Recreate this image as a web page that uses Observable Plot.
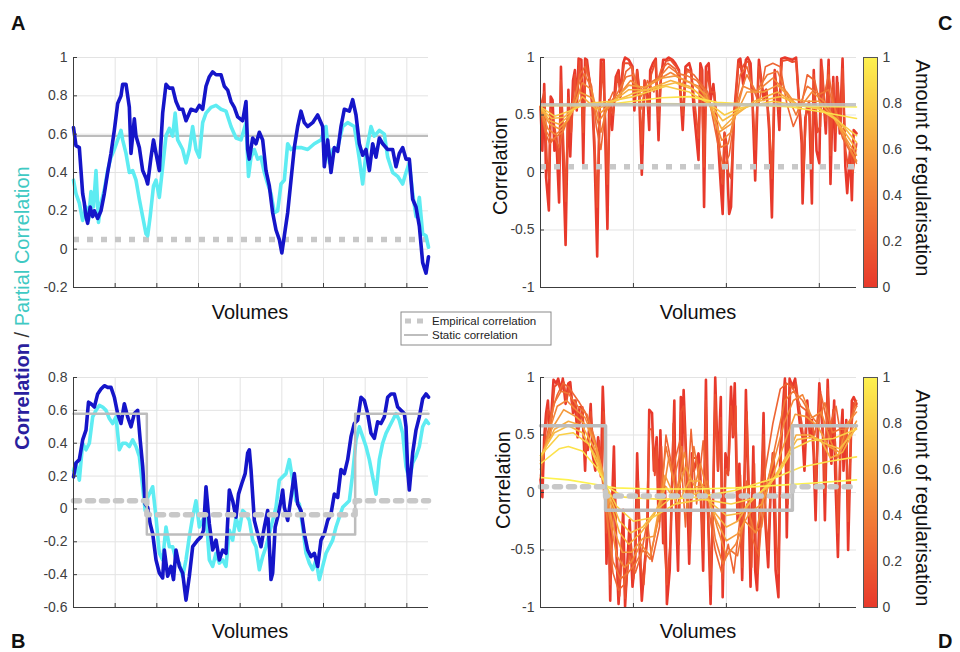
<!DOCTYPE html>
<html><head><meta charset="utf-8">
<script src="https://cdn.jsdelivr.net/npm/d3@7"></script>
<script src="https://cdn.jsdelivr.net/npm/@observablehq/plot@0.6"></script>
<style>
html,body{margin:0;padding:0;background:#fff;}
#fig{position:relative;width:960px;height:652px;overflow:hidden;background:#fff;font-family:"Liberation Sans",Arial,Helvetica,sans-serif;}
#fig .panel{position:absolute;}
#fig svg{overflow:visible;}
#overlay{position:absolute;left:0;top:0;pointer-events:none;}
</style></head><body><div id="fig"></div>
<script>
// ---------------- DATA ----------------
// Panel A (volumes, correlation)
const corrA = [[0,0.635],[3,0.54],[7,0.53],[9,0.41],[11,0.29],[13,0.24],[15,0.17],[17,0.135],[20,0.22],[23,0.17],[25,0.2],[29,0.16],[33,0.2],[37,0.29],[41,0.4],[45,0.5],[49,0.62],[53,0.76],[57,0.8],[59,0.86],[63,0.86],[67,0.74],[69,0.5],[73,0.68],[75,0.59],[79,0.53],[83,0.41],[87,0.37],[89,0.34],[93,0.48],[96,0.57],[99,0.5],[103,0.41],[107,0.71],[111,0.86],[115,0.84],[119,0.84],[123,0.77],[127,0.73],[131,0.73],[135,0.67],[141,0.73],[147,0.72],[151,0.75],[155,0.73],[159,0.85],[163,0.9],[167,0.925],[171,0.91],[177,0.91],[181,0.85],[185,0.83],[189,0.77],[193,0.74],[197,0.69],[203,0.67],[207,0.77],[209,0.52],[211,0.47],[215,0.58],[219,0.55],[223,0.61],[227,0.57],[231,0.41],[235,0.33],[239,0.19],[243,0.1],[247,0.05],[250,-0.02],[253,0.07],[257,0.19],[261,0.36],[265,0.53],[269,0.64],[273,0.72],[277,0.66],[281,0.64],[287,0.66],[293,0.7],[299,0.64],[301,0.43],[305,0.57],[309,0.4],[313,0.53],[317,0.51],[321,0.64],[325,0.73],[331,0.72],[335,0.78],[339,0.7],[343,0.55],[347,0.49],[351,0.52],[355,0.41],[359,0.55],[363,0.48],[367,0.58],[371,0.55],[377,0.52],[383,0.52],[387,0.43],[391,0.5],[395,0.53],[399,0.47],[403,0.47],[407,0.26],[411,0.22],[415,0.12],[419,-0.07],[423,-0.125],[426,-0.04]];
const partialA = [[0,0.36],[3,0.29],[7,0.24],[11,0.15],[15,0.22],[18,0.15],[21,0.30],[24,0.22],[27,0.41],[30,0.14],[33,0.24],[37,0.31],[41,0.41],[45,0.48],[49,0.52],[53,0.57],[57,0.62],[59,0.57],[63,0.50],[67,0.40],[71,0.41],[75,0.36],[79,0.26],[83,0.17],[87,0.08],[89,0.07],[92,0.17],[96,0.33],[99,0.36],[103,0.27],[107,0.43],[111,0.59],[115,0.63],[119,0.59],[122,0.71],[125,0.57],[131,0.52],[135,0.45],[139,0.52],[143,0.64],[147,0.52],[151,0.48],[155,0.66],[159,0.71],[165,0.74],[171,0.75],[177,0.73],[183,0.72],[189,0.64],[195,0.58],[201,0.57],[207,0.66],[210,0.38],[213,0.48],[217,0.52],[221,0.47],[225,0.48],[229,0.40],[233,0.34],[237,0.29],[241,0.19],[245,0.20],[249,0.34],[253,0.36],[257,0.55],[261,0.52],[265,0.53],[273,0.53],[281,0.52],[289,0.55],[297,0.57],[303,0.64],[307,0.45],[311,0.52],[317,0.53],[323,0.64],[329,0.66],[337,0.64],[343,0.47],[347,0.34],[351,0.50],[357,0.64],[361,0.59],[367,0.62],[373,0.60],[377,0.48],[383,0.40],[389,0.38],[395,0.34],[399,0.40],[403,0.45],[407,0.29],[411,0.17],[415,0.27],[419,0.08],[423,0.07],[426,0.01]];
const staticA = [0.59];
const empiricalA = [0.05];

// Panel B
const corrB = [[0,0.195],[3,0.28],[7,0.30],[11,0.42],[15,0.48],[18,0.65],[21,0.64],[25,0.62],[29,0.70],[33,0.73],[37,0.75],[41,0.74],[45,0.74],[49,0.68],[53,0.58],[57,0.52],[61,0.64],[65,0.56],[69,0.50],[73,0.58],[77,0.60],[80,0.42],[83,0.26],[86,0.03],[89,0.01],[92,-0.09],[95,-0.15],[99,-0.31],[103,-0.39],[107,-0.42],[109,-0.25],[113,-0.41],[117,-0.35],[120,-0.43],[123,-0.25],[127,-0.35],[131,-0.39],[135,-0.555],[139,-0.41],[143,-0.23],[149,-0.19],[153,-0.17],[156,-0.13],[159,0.135],[163,-0.09],[167,-0.25],[171,-0.19],[175,-0.31],[179,-0.25],[183,-0.27],[187,0.115],[191,0.05],[195,-0.05],[198,0.09],[202,0.155],[206,0.215],[209,0.34],[211,0.36],[213,0.24],[217,-0.07],[221,-0.15],[225,-0.23],[229,-0.11],[233,-0.01],[237,-0.43],[239,-0.39],[242,-0.11],[245,-0.05],[249,0.05],[251,0.115],[253,0.01],[257,-0.07],[261,0.07],[265,0.215],[269,0.03],[273,-0.01],[277,-0.15],[281,-0.25],[285,-0.29],[289,-0.27],[293,-0.35],[297,-0.19],[301,-0.15],[305,-0.07],[309,-0.03],[313,0.09],[317,0.07],[321,0.24],[325,0.215],[329,0.30],[333,0.44],[337,0.52],[341,0.54],[345,0.68],[349,0.66],[353,0.58],[357,0.46],[361,0.43],[365,0.53],[369,0.52],[373,0.56],[377,0.68],[381,0.70],[385,0.70],[389,0.62],[393,0.60],[397,0.58],[399,0.50],[401,0.24],[403,0.115],[407,0.34],[411,0.48],[415,0.56],[419,0.67],[423,0.70],[426,0.68]];
const partialB = [[0,0.235],[3,0.28],[7,0.175],[11,0.40],[15,0.36],[19,0.40],[23,0.56],[27,0.60],[31,0.63],[35,0.62],[39,0.60],[43,0.55],[47,0.52],[51,0.56],[55,0.36],[59,0.40],[63,0.40],[67,0.38],[71,0.42],[75,0.38],[79,0.32],[83,0.135],[86,-0.01],[89,0.07],[95,0.135],[99,-0.05],[103,-0.27],[107,-0.31],[111,-0.11],[115,-0.23],[119,-0.23],[123,-0.31],[127,-0.33],[131,-0.41],[135,-0.31],[139,-0.17],[143,-0.05],[147,0.05],[151,-0.11],[155,-0.07],[159,-0.03],[163,-0.31],[167,-0.35],[171,-0.27],[175,-0.33],[179,-0.31],[183,-0.35],[187,-0.13],[191,-0.19],[195,-0.05],[199,-0.13],[203,-0.01],[207,-0.03],[211,-0.07],[215,-0.19],[219,-0.23],[223,-0.37],[227,-0.29],[231,-0.23],[235,-0.15],[239,-0.07],[243,0.01],[247,0.175],[251,0.195],[255,0.215],[259,0.30],[263,0.175],[267,0.05],[271,0.03],[275,-0.11],[279,-0.27],[283,-0.33],[287,-0.37],[291,-0.31],[295,-0.43],[299,-0.35],[303,-0.27],[307,-0.23],[311,-0.19],[315,-0.11],[319,-0.05],[323,0.01],[327,0.03],[331,0.05],[335,0.215],[339,0.42],[343,0.50],[347,0.44],[351,0.38],[355,0.30],[359,0.195],[363,0.09],[367,0.30],[371,0.40],[375,0.46],[379,0.50],[383,0.54],[387,0.58],[391,0.54],[395,0.46],[399,0.26],[403,0.175],[407,0.28],[411,0.32],[415,0.38],[419,0.50],[423,0.54],[426,0.52]];
const staticB = [[0,0.58],[88,-0.155],[338,0.58],[426,0.58]];
const empiricalB = [[0,0.05],[88,-0.035],[338,0.05],[426,0.05]];

// Panel C: regularised correlation, one series per amount of regularisation
const regC0 = [[0,0.57],[2,0.19],[4,0.77],[6,-0.04],[9,-0.33],[11,0.66],[13,0.63],[15,0.19],[17,0.31],[20,-0.26],[22,0.92],[24,0.19],[27,-0.63],[30,0.72],[32,0.14],[35,0.80],[37,0.89],[39,0.54],[41,0.99],[44,0.98],[46,0.08],[48,0.99],[50,0.98],[53,0.77],[56,0.57],[58,0.19],[61,-0.73],[63,0.34],[65,0.98],[68,0.98],[70,0.19],[72,-0.49],[74,0.63],[77,0.37],[81,0.83],[84,0.89],[86,0.66],[89,0.95],[91,1.0],[95,0.98],[99,0.92],[101,0.54],[104,0.89],[106,0.72],[109,-0.02],[112,0.80],[115,0.66],[117,0.37],[118,0.89],[121,0.95],[124,0.99],[127,0.28],[129,0.77],[132,0.98],[135,0.98],[138,1.0],[142,0.98],[145,0.95],[149,0.89],[153,0.37],[156,0.92],[160,0.95],[162,0.89],[165,0.54],[170,0.11],[172,0.95],[174,0.89],[176,-0.30],[178,0.92],[181,0.95],[183,0.63],[186,0.77],[189,0.48],[191,0.28],[194,-0.12],[196,-0.36],[198,0.34],[200,0.25],[202,-0.18],[203,-0.36],[205,-0.30],[208,0.48],[211,0.77],[213,0.98],[215,0.99],[218,0.77],[221,0.98],[223,1.0],[226,0.95],[228,0.63],[231,-0.07],[234,0.77],[235,0.98],[238,0.77],[240,0.63],[243,0.72],[246,0.37],[249,-0.39],[252,0.89],[255,0.63],[257,0.37],[259,0.99],[263,1.0],[267,0.99],[271,0.98],[275,1.0],[278,0.63],[281,0.25],[282,-0.27],[285,0.48],[289,0.60],[292,-0.27],[294,0.89],[297,0.19],[300,0.08],[302,0.98],[304,0.72],[307,0.34],[310,0.98],[312,-0.10],[315,0.83],[317,0.19],[319,0.83],[322,0.34],[325,0.99],[328,0.05],[330,-0.18],[333,0.19],[335,-0.24],[337,0.37],[340,0.34]];
const regC12 = [[0,0.57],[4,0.70],[7,0.10],[9,-0.05],[11,0.55],[14,0.45],[17,0.30],[20,0.05],[22,0.80],[25,0.20],[27,-0.25],[30,0.65],[33,0.35],[37,0.85],[39,0.60],[42,0.97],[46,0.35],[49,0.97],[53,0.80],[56,0.60],[58,0.30],[61,-0.30],[64,0.55],[67,0.95],[70,0.40],[72,-0.10],[75,0.60],[78,0.50],[83,0.85],[86,0.70],[90,0.95],[95,0.95],[99,0.90],[101,0.65],[104,0.88],[106,0.75],[109,0.25],[112,0.80],[116,0.55],[119,0.85],[124,0.97],[127,0.45],[130,0.85],[135,0.97],[140,0.98],[145,0.93],[149,0.88],[153,0.50],[157,0.90],[162,0.88],[166,0.60],[170,0.30],[173,0.90],[176,0.05],[179,0.88],[183,0.70],[187,0.70],[191,0.35],[194,0.05],[196,-0.10],[198,0.35],[202,0.0],[205,-0.05],[209,0.55],[213,0.95],[216,0.90],[220,0.95],[224,0.97],[228,0.65],[231,0.20],[235,0.92],[239,0.72],[243,0.70],[246,0.45],[249,-0.05],[252,0.85],[256,0.55],[260,0.97],[266,0.98],[271,0.96],[275,0.97],[278,0.65],[281,0.35],[283,0.0],[286,0.55],[289,0.62],[292,0.05],[294,0.85],[298,0.35],[301,0.40],[303,0.92],[307,0.45],[310,0.92],[312,0.15],[315,0.78],[318,0.35],[320,0.78],[323,0.40],[325,0.90],[328,0.20],[331,0.05],[334,0.20],[336,0.0],[340,0.25]];
const regC25 = [[0,0.55],[5,0.35],[10,0.25],[15,0.30],[20,0.22],[25,0.40],[35,0.55],[42,0.85],[48,0.92],[55,0.75],[60,0.40],[65,0.20],[70,0.55],[78,0.70],[85,0.65],[92,0.88],[98,0.92],[103,0.78],[108,0.55],[115,0.80],[122,0.70],[130,0.90],[137,0.95],[145,0.90],[152,0.75],[158,0.88],[165,0.85],[172,0.78],[180,0.70],[186,0.45],[192,0.20],[197,0.05],[203,0.15],[210,0.55],[215,0.85],[222,0.92],[228,0.75],[235,0.60],[242,0.92],[250,0.95],[258,0.92],[265,0.60],[272,0.40],[280,0.55],[287,0.85],[295,0.80],[302,0.55],[310,0.85],[318,0.50],[325,0.30],[332,0.20],[340,0.10]];
const regC35 = [[0,0.55],[6,0.36],[12,0.28],[18,0.32],[24,0.35],[32,0.52],[40,0.75],[47,0.86],[54,0.75],[60,0.48],[65,0.35],[72,0.58],[82,0.68],[92,0.83],[100,0.85],[108,0.66],[118,0.78],[128,0.83],[138,0.92],[148,0.86],[158,0.84],[168,0.80],[178,0.70],[186,0.52],[194,0.22],[202,0.25],[212,0.62],[222,0.85],[232,0.70],[244,0.85],[255,0.88],[265,0.68],[275,0.50],[287,0.75],[300,0.68],[310,0.72],[320,0.48],[330,0.25],[340,0.08]];
const regC45 = [[0,0.55],[8,0.38],[16,0.33],[24,0.38],[35,0.55],[45,0.78],[55,0.72],[63,0.45],[72,0.55],[85,0.68],[97,0.80],[110,0.72],[125,0.80],[140,0.87],[155,0.80],[170,0.75],[182,0.60],[195,0.28],[205,0.35],[218,0.75],[232,0.70],[250,0.82],[265,0.70],[278,0.55],[292,0.70],[305,0.62],[318,0.45],[330,0.25],[340,0.10]];
const regC55 = [[0,0.55],[10,0.42],[20,0.38],[30,0.46],[42,0.70],[55,0.65],[65,0.52],[78,0.62],[95,0.76],[112,0.74],[130,0.82],[145,0.84],[162,0.78],[178,0.68],[192,0.35],[205,0.42],[222,0.70],[240,0.70],[255,0.76],[270,0.64],[285,0.62],[300,0.62],[315,0.48],[330,0.28],[340,0.15]];
const regC65 = [[0,0.56],[10,0.45],[20,0.42],[32,0.50],[45,0.66],[60,0.55],[75,0.60],[95,0.72],[115,0.72],[140,0.80],[160,0.75],[180,0.62],[195,0.38],[210,0.50],[230,0.62],[255,0.70],[275,0.60],[295,0.58],[315,0.48],[330,0.32],[340,0.20]];
const regC72 = [[0,0.56],[12,0.47],[25,0.48],[40,0.58],[60,0.58],[80,0.62],[100,0.69],[125,0.74],[145,0.78],[165,0.72],[182,0.60],[196,0.45],[212,0.53],[235,0.62],[258,0.66],[280,0.58],[300,0.56],[318,0.47],[330,0.36],[340,0.26]];
const regC80 = [[0,0.57],[15,0.49],[30,0.53],[50,0.60],[75,0.62],[100,0.66],[135,0.75],[160,0.70],[185,0.58],[198,0.50],[215,0.56],[250,0.62],[280,0.58],[300,0.55],[320,0.45],[340,0.32]];
const regC92 = [[0,0.58],[40,0.58],[80,0.60],[130,0.65],[160,0.66],[190,0.61],[230,0.59],[270,0.57],[300,0.53],[340,0.47]];
const regC100 = [[0,0.585],[60,0.595],[120,0.60],[180,0.595],[240,0.585],[300,0.575],[340,0.57]];
const lambdasC = [0, 0.12, 0.25, 0.35, 0.45, 0.55, 0.65, 0.72, 0.8, 0.92, 1];
const seriesC = [regC0, regC12, regC25, regC35, regC45, regC55, regC65, regC72, regC80, regC92, regC100];
const staticC = [0.59];
const empiricalC = [0.05];

// Panel D
const regD0 = [[0,0.11],[2,-0.04],[4,0.48],[6,0.69],[8,0.80],[10,0.48],[12,0.72],[14,0.98],[17,0.95],[19,0.99],[22,0.89],[24,0.99],[27,0.77],[30,0.95],[32,0.96],[35,0.69],[37,0.80],[40,0.48],[42,0.74],[45,0.74],[48,0.19],[49,0.43],[51,0.37],[54,0.77],[56,0.34],[59,0.19],[62,0.48],[65,0.14],[67,0.92],[69,0.48],[71,-0.62],[73,-0.04],[75,-0.94],[77,-0.10],[79,0.40],[81,-0.39],[84,-0.97],[86,-0.68],[89,-0.15],[91,-0.99],[93,-0.68],[96,-0.24],[99,-0.82],[102,-0.56],[104,0.34],[107,-0.56],[109,-0.94],[112,-0.62],[115,-0.39],[117,0.72],[120,0.69],[122,0.19],[125,0.48],[127,-0.24],[129,0.54],[132,-0.44],[134,0.05],[136,-0.97],[139,-0.68],[142,0.19],[144,0.80],[145,0.05],[148,-0.68],[151,0.83],[152,0.19],[154,0.89],[157,0.25],[160,-0.62],[163,0.34],[165,0.19],[170,0.34],[172,0.14],[175,-0.68],[178,0.98],[180,-0.10],[183,-0.97],[186,0.05],[188,1.0],[191,0.19],[194,0.83],[196,-0.91],[199,0.34],[202,0.19],[205,0.92],[207,0.48],[209,0.95],[212,-0.24],[214,0.25],[217,-0.76],[220,0.34],[221,0.89],[224,-0.10],[226,-0.82],[229,0.40],[231,-0.68],[233,-0.85],[236,-0.10],[238,0.05],[240,0.69],[242,-0.27],[245,-0.65],[248,0.11],[250,0.34],[253,-0.68],[256,-0.91],[258,0.34],[261,0.77],[263,0.99],[265,-0.39],[268,0.99],[271,0.92],[274,0.99],[276,0.83],[279,0.60],[282,0.48],[284,0.19],[287,0.80],[290,0.48],[292,0.63],[294,0.31],[296,-0.24],[298,0.48],[300,0.95],[301,0.83],[304,0.48],[306,-0.24],[309,0.98],[311,0.48],[313,0.25],[316,0.80],[317,0.19],[320,-0.56],[323,0.48],[325,0.72],[326,0.19],[329,0.63],[331,-0.50],[334,0.48],[335,0.80],[337,0.83],[340,0.77]];
const regD12 = [[0,0.12],[4,0.40],[8,0.72],[12,0.65],[15,0.92],[19,0.95],[22,0.88],[25,0.96],[28,0.80],[31,0.92],[35,0.72],[38,0.80],[41,0.55],[45,0.72],[48,0.35],[51,0.45],[54,0.70],[57,0.40],[60,0.30],[63,0.45],[66,0.20],[68,0.70],[71,-0.35],[73,-0.10],[75,-0.80],[78,-0.20],[80,0.10],[82,-0.50],[85,-0.90],[88,-0.40],[91,-0.92],[94,-0.65],[97,-0.40],[100,-0.75],[103,-0.30],[105,0.10],[108,-0.65],[111,-0.80],[114,-0.45],[117,0.55],[120,0.55],[123,0.15],[125,0.40],[128,-0.25],[130,0.40],[133,-0.40],[136,-0.80],[140,-0.40],[143,0.60],[146,-0.10],[149,-0.45],[151,0.70],[154,0.75],[158,0.05],[161,-0.45],[164,0.30],[168,0.30],[171,0.20],[175,-0.50],[178,0.80],[180,-0.15],[183,-0.80],[186,0.05],[188,0.85],[191,0.20],[194,0.65],[196,-0.75],[199,0.20],[202,0.15],[205,0.75],[208,0.50],[210,0.75],[212,-0.20],[215,0.15],[217,-0.65],[220,0.25],[222,0.70],[225,-0.15],[227,-0.65],[230,0.25],[232,-0.55],[234,-0.70],[237,-0.10],[240,0.50],[242,-0.20],[245,-0.50],[248,0.15],[251,0.35],[254,-0.45],[256,-0.70],[259,0.40],[262,0.80],[264,0.95],[266,-0.10],[269,0.95],[272,0.90],[275,0.95],[278,0.75],[281,0.60],[284,0.40],[287,0.75],[290,0.55],[293,0.60],[296,0.05],[299,0.55],[301,0.88],[304,0.55],[306,0.0],[309,0.90],[312,0.45],[315,0.72],[318,0.30],[320,-0.35],[323,0.45],[326,0.55],[329,0.60],[331,-0.25],[334,0.50],[337,0.78],[340,0.75]];
const regD25 = [[0,0.15],[6,0.45],[12,0.70],[18,0.85],[24,0.95],[30,0.92],[36,0.85],[42,0.78],[48,0.70],[54,0.55],[60,0.40],[66,0.20],[70,0.0],[74,-0.40],[78,-0.70],[84,-0.85],[90,-0.80],[96,-0.55],[102,-0.70],[108,-0.55],[115,-0.25],[120,-0.60],[128,-0.30],[135,0.50],[142,0.20],[150,0.45],[156,-0.30],[162,0.55],[168,-0.10],[175,0.45],[182,-0.20],[188,-0.50],[195,-0.70],[202,-0.45],[208,-0.70],[215,-0.20],[222,0.10],[228,-0.40],[235,-0.55],[242,0.20],[250,0.60],[258,0.90],[265,0.95],[272,0.90],[280,0.75],[288,0.70],[295,0.50],[302,0.85],[310,0.55],[318,0.75],[325,0.40],[332,0.60],[340,0.80]];
const regD35 = [[0,0.20],[8,0.50],[15,0.78],[22,0.88],[30,0.86],[40,0.75],[50,0.68],[58,0.48],[65,0.20],[72,-0.25],[78,-0.60],[86,-0.75],[94,-0.70],[102,-0.62],[110,-0.50],[118,-0.58],[126,-0.25],[135,0.40],[143,0.10],[152,0.40],[158,-0.15],[165,0.40],[172,0.05],[180,0.10],[188,-0.40],[196,-0.62],[204,-0.50],[212,-0.55],[222,-0.10],[230,-0.35],[238,-0.30],[246,0.15],[255,0.50],[263,0.80],[272,0.88],[282,0.80],[290,0.68],[298,0.60],[306,0.78],[314,0.52],[322,0.55],[330,0.55],[340,0.75]];
const regD45 = [[0,0.25],[8,0.50],[18,0.75],[28,0.80],[38,0.72],[48,0.65],[58,0.45],[66,0.20],[74,-0.20],[82,-0.55],[90,-0.65],[98,-0.60],[108,-0.45],[118,-0.55],[128,-0.20],[138,0.30],[146,0.0],[155,0.35],[163,-0.05],[172,0.25],[180,0.00],[190,-0.30],[200,-0.55],[210,-0.45],[220,-0.25],[232,-0.35],[242,0.05],[252,0.30],[262,0.60],[272,0.80],[282,0.85],[292,0.65],[302,0.70],[312,0.45],[320,0.30],[330,0.60],[340,0.70]];
const regD55 = [[0,0.28],[12,0.55],[25,0.72],[38,0.66],[50,0.58],[60,0.40],[68,0.15],[78,-0.30],[88,-0.52],[98,-0.52],[110,-0.40],[122,-0.38],[134,0.15],[145,-0.05],[156,0.22],[166,0.05],[176,0.05],[188,-0.22],[200,-0.42],[212,-0.36],[225,-0.18],[238,-0.10],[250,0.15],[262,0.42],[274,0.68],[286,0.66],[298,0.58],[310,0.40],[322,0.35],[332,0.50],[340,0.62]];
const regD65 = [[0,0.30],[15,0.55],[30,0.62],[45,0.58],[60,0.35],[72,0.0],[85,-0.35],[95,-0.45],[108,-0.35],[122,-0.20],[135,0.05],[148,-0.10],[160,0.10],[172,0.10],[185,-0.15],[200,-0.30],[212,-0.25],[228,-0.05],[245,0.05],[262,0.25],[275,0.50],[290,0.50],[302,0.45],[312,0.30],[325,0.35],[340,0.58]];
const regD72 = [[0,0.32],[15,0.52],[30,0.58],[45,0.52],[60,0.30],[72,0.02],[85,-0.25],[97,-0.35],[110,-0.30],[125,-0.15],[140,-0.05],[155,-0.05],[170,0.0],[185,-0.10],[200,-0.20],[215,-0.18],[230,-0.05],[248,0.08],[262,0.28],[276,0.46],[292,0.48],[308,0.42],[322,0.38],[340,0.56]];
const regD82 = [[0,0.32],[20,0.50],[35,0.52],[52,0.42],[68,0.10],[82,-0.12],[100,-0.25],[120,-0.22],[145,-0.10],[175,-0.06],[205,-0.10],[230,-0.05],[255,0.15],[272,0.38],[290,0.45],[315,0.47],[340,0.55]];
const regD92 = [[0,0.25],[20,0.38],[30,0.40],[45,0.36],[60,0.22],[72,0.05],[90,-0.04],[130,-0.06],[170,-0.04],[210,0.02],[250,0.12],[280,0.22],[310,0.27],[340,0.31]];
const regD100 = [[0,0.13],[30,0.11],[60,0.07],[80,0.04],[120,0.03],[170,0.03],[210,0.04],[250,0.06],[290,0.08],[340,0.11]];
const lambdasD = [0, 0.12, 0.25, 0.35, 0.45, 0.55, 0.65, 0.72, 0.82, 0.92, 1];
const seriesD = [regD0, regD12, regD25, regD35, regD45, regD55, regD65, regD72, regD82, regD92, regD100];
const staticD = [[0,0.58],[70,-0.155],[271,0.58],[340,0.58]];
const empiricalD = [[0,0.05],[70,-0.03],[271,0.05],[340,0.05]];

// Ticks
const xTicksLeft = [50,100,150,200,250,300,350,400];
const yTicksA = [-0.2,0,0.2,0.4,0.6,0.8,1];
const yTicksB = [-0.6,-0.4,-0.2,0,0.2,0.4,0.6,0.8];
const xTicksRight = [100,200,300];
const yTicksRight = [-1,-0.5,0,0.5,1];
const colorbarTicks = [0,0.2,0.4,0.6,0.8,1];

// ---------------- STYLE ----------------
const FONT = '"Liberation Sans", Arial, Helvetica, sans-serif';
const GRID = "#e3e3e3", AXIS = "#3c3c3c", TICKTXT = "#404040";
const BLUE = "#1515c9", CYAN = "#5eecf2";
const GREY_STATIC = "#bdbdbd", GREY_EMP = "#c8c8c8";
const colorScale = {type: "linear", domain: [0, 0.5, 1], range: ["#e8392b", "#f4903a", "#fdf24f"]};
const fig = document.getElementById("fig");

function place(node, left, top) {
  const d = document.createElement("div");
  d.className = "panel";
  d.style.left = left + "px"; d.style.top = top + "px";
  d.appendChild(node); fig.appendChild(d);
}
function gridMarks(xTicks, yTicks) {
  return [
    Plot.gridX(xTicks, {stroke: GRID, strokeOpacity: 1}),
    Plot.gridY(yTicks, {stroke: GRID, strokeOpacity: 1}),
    Plot.axisY(yTicks, {anchor: "left", label: null, tickSize: 0, tickPadding: 6, tickFormat: d => String(d), fontSize: 14, fill: TICKTXT})
  ];
}
function axisMarks(xTicks, yTicks, x0, y0) {
  return [
    Plot.ruleX(xTicks, {y1: () => y0, y2: () => y0, insetTop: -4, stroke: AXIS}),
    Plot.ruleY(yTicks, {x1: () => x0, x2: () => x0, insetRight: -4, stroke: AXIS}),
    Plot.ruleY([y0], {stroke: AXIS}),
    Plot.ruleX([x0], {stroke: AXIS})
  ];
}
const baseStyle = {fontFamily: FONT, background: "transparent", overflow: "visible"};

// ---------------- PANEL A ----------------
place(Plot.plot({
  width: 440, height: 260, marginLeft: 73, marginRight: 12, marginTop: 17, marginBottom: 13,
  style: baseStyle,
  x: {domain: [0, 426], axis: null, label: null},
  y: {domain: [-0.2, 1], axis: null, label: null},
  marks: [
    ...gridMarks(xTicksLeft, yTicksA),
    Plot.ruleY(staticA, {stroke: GREY_STATIC, strokeWidth: 2}),
    Plot.ruleY(empiricalA, {stroke: GREY_EMP, strokeWidth: 5.5, strokeDasharray: "6,8"}),
    Plot.line(partialA, {x: d => d[0], y: d => d[1], stroke: CYAN, strokeWidth: 3.6}),
    Plot.line(corrA, {x: d => d[0], y: d => d[1], stroke: BLUE, strokeWidth: 3.6}),
    ...axisMarks(xTicksLeft, yTicksA, 0, -0.2)
  ]
}), 0, 40);

// ---------------- PANEL B ----------------
place(Plot.plot({
  width: 440, height: 260, marginLeft: 73, marginRight: 12, marginTop: 17, marginBottom: 13,
  style: baseStyle,
  x: {domain: [0, 426], axis: null, label: null},
  y: {domain: [-0.6, 0.8], axis: null, label: null},
  marks: [
    ...gridMarks(xTicksLeft, yTicksB),
    Plot.line(partialB, {x: d => d[0], y: d => d[1], stroke: CYAN, strokeWidth: 3.6}),
    Plot.line(corrB, {x: d => d[0], y: d => d[1], stroke: BLUE, strokeWidth: 3.6}),
    Plot.line(staticB, {x: d => d[0], y: d => d[1], curve: "step-after", stroke: GREY_STATIC, strokeWidth: 2.5}),
    Plot.line(empiricalB, {x: d => d[0], y: d => d[1], curve: "step-after", stroke: GREY_EMP, strokeWidth: 5.5, strokeDasharray: "6,8"}),
    ...axisMarks(xTicksLeft, yTicksB, 0, -0.6)
  ]
}), 0, 360);

// ---------------- PANELS C & D ----------------
function table(lambdas, series) {
  return series.flatMap((s, i) => s.map(([x, y]) => ({lam: lambdas[i], x, y})));
}
function rightPanel(lambdas, series, staticMark, empMark) {
  const rows = table(lambdas, series);
  return Plot.plot({
    width: 420, height: 260, marginLeft: 70, marginRight: 34, marginTop: 17, marginBottom: 13,
    style: baseStyle,
    x: {domain: [0, 340], axis: null, label: null},
    y: {domain: [-1, 1], axis: null, label: null},
    color: colorScale,
    marks: [
      ...gridMarks(xTicksRight, yTicksRight),
      Plot.line(rows.filter(d => d.lam === 0), {x: "x", y: "y", z: "lam", stroke: "lam", strokeWidth: 2.6}),
      Plot.line(rows.filter(d => d.lam > 0 && d.lam < 0.2), {x: "x", y: "y", z: "lam", stroke: "lam", strokeWidth: 2}),
      Plot.line(rows.filter(d => d.lam >= 0.2), {x: "x", y: "y", z: "lam", stroke: "lam", strokeWidth: 1.6}),
      staticMark, empMark,
      ...axisMarks(xTicksRight, yTicksRight, 0, -1)
    ]
  });
}
place(rightPanel(lambdasC, seriesC,
  Plot.ruleY(staticC, {stroke: GREY_STATIC, strokeWidth: 3.5, strokeOpacity: 0.85}),
  Plot.ruleY(empiricalC, {stroke: GREY_EMP, strokeWidth: 5.5, strokeDasharray: "6,8"})
), 470, 40);
place(rightPanel(lambdasD, seriesD,
  Plot.line(staticD, {x: d => d[0], y: d => d[1], curve: "step-after", stroke: GREY_STATIC, strokeWidth: 3.5}),
  Plot.line(empiricalD, {x: d => d[0], y: d => d[1], curve: "step-after", stroke: GREY_EMP, strokeWidth: 5.5, strokeDasharray: "6,8"})
), 470, 360);

// Colorbars
function colorbar() {
  return Plot.plot({
    width: 70, height: 260, marginLeft: 8, marginRight: 48, marginTop: 17, marginBottom: 13,
    style: baseStyle,
    x: {domain: [0, 1], axis: null, label: null},
    y: {domain: [0, 1], axis: null, label: null},
    color: colorScale,
    marks: [
      Plot.raster({x1: 0, x2: 1, y1: 0, y2: 1, width: 2, height: 230, fill: (x, y) => y}),
      Plot.axisY(colorbarTicks, {anchor: "right", label: null, tickSize: 0, tickPadding: 5, tickFormat: d => String(d), fontSize: 14, fill: TICKTXT}),
      Plot.frame({stroke: "#555"})
    ]
  });
}
place(colorbar(), 855, 40);
place(colorbar(), 855, 360);

// ---------------- TEXT OVERLAY ----------------
const ov = d3.select(fig).append("svg").attr("id", "overlay").attr("width", 960).attr("height", 652)
  .style("font-family", FONT);
const letters = [["A", 11, 30], ["C", 938, 30], ["B", 11, 648], ["D", 938, 648]];
letters.forEach(([t, x, y]) => ov.append("text").attr("x", x).attr("y", y).attr("font-size", 20).attr("font-weight", "bold").attr("fill", "#111").text(t));
[[250, 319], [250, 638], [698, 319], [698, 638]].forEach(([x, y]) =>
  ov.append("text").attr("x", x).attr("y", y).attr("text-anchor", "middle").attr("font-size", 20).attr("fill", "#111").text("Volumes"));
[[507, 166], [510, 480]].forEach(([x, y]) =>
  ov.append("text").attr("transform", `translate(${x},${y}) rotate(-90)`).attr("text-anchor", "middle").attr("font-size", 20).attr("fill", "#111").text("Correlation"));
[[916, 168], [916, 498]].forEach(([x, y]) =>
  ov.append("text").attr("transform", `translate(${x},${y}) rotate(90)`).attr("text-anchor", "middle").attr("font-size", 20).attr("fill", "#111").text("Amount of regularisation"));
const big = ov.append("text").attr("transform", "translate(29,308) rotate(-90)").attr("text-anchor", "middle").attr("font-size", 20);
big.append("tspan").attr("font-weight", "bold").attr("fill", "#2a1f9e").text("Correlation");
big.append("tspan").attr("fill", "#333").text(" / ");
big.append("tspan").attr("fill", "#3fc9c3").text("Partial Correlation");

// Legend
const lg = ov.append("g");
lg.append("rect").attr("x", 401).attr("y", 312).attr("width", 150).attr("height", 33).attr("fill", "#fff").attr("stroke", "#8a8a8a");
lg.append("line").attr("x1", 405).attr("x2", 425).attr("y1", 321).attr("y2", 321).attr("stroke", GREY_EMP).attr("stroke-width", 5).attr("stroke-dasharray", "6,6");
lg.append("line").attr("x1", 404).attr("x2", 428).attr("y1", 335).attr("y2", 335).attr("stroke", GREY_STATIC).attr("stroke-width", 2);
lg.append("text").attr("x", 432).attr("y", 325).attr("font-size", 11.5).attr("fill", "#222").text("Empirical correlation");
lg.append("text").attr("x", 432).attr("y", 339).attr("font-size", 11.5).attr("fill", "#222").text("Static correlation");
</script></body></html>
